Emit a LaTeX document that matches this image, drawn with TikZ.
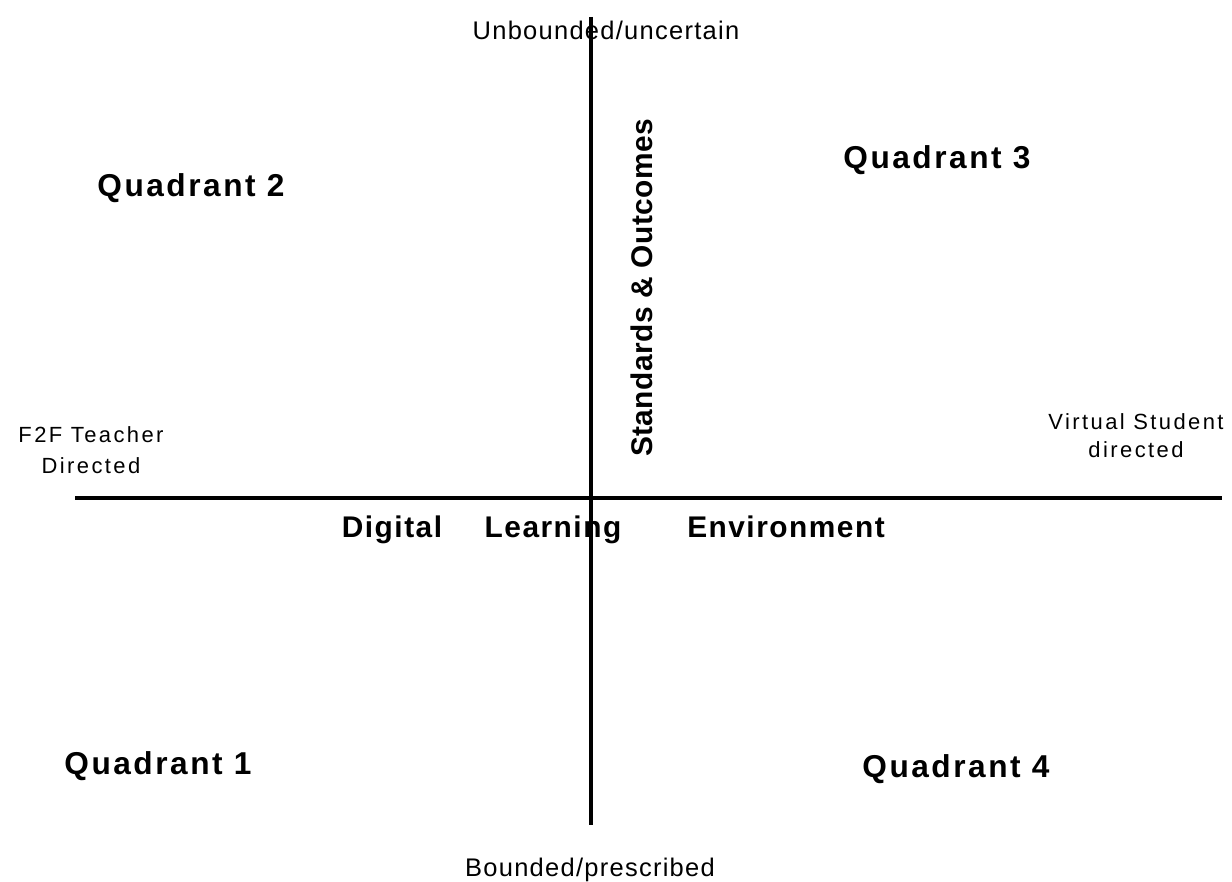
\documentclass[tikz,border=0pt]{standalone}
\usepackage{fontspec}
\setmainfont{Liberation Sans}
\newfontfamily\quadfont[LetterSpace=8]{Liberation Sans}
\newfontfamily\dlefont[LetterSpace=5]{Liberation Sans}
\newfontfamily\stdfont[LetterSpace=1.5]{Liberation Sans}
\newfontfamily\poleFont[LetterSpace=5]{Liberation Sans}
\newfontfamily\sideFont[LetterSpace=11]{Liberation Sans}
\tikzstyle{axis} = [line width=1.9pt, black]
\tikzstyle{quad} = [font=\quadfont\bfseries\fontsize{18}{20}\selectfont, anchor=base, inner sep=0pt]
\tikzstyle{dle} = [font=\dlefont\bfseries\fontsize{17}{20}\selectfont, anchor=base, inner sep=0pt]
\tikzstyle{pole} = [font=\poleFont\fontsize{14.5}{16}\selectfont, anchor=base, inner sep=0pt]
\tikzstyle{side} = [font=\sideFont\fontsize{12.5}{16}\selectfont, anchor=base, inner sep=0pt, align=center]

\begin{document}
\begin{tikzpicture}[x=0.02cm, y=-0.02cm]
\useasboundingbox (0,0) rectangle (1232,882);
 \coordinate (T) at (591,17);
 \coordinate (B) at (591,825);
 \coordinate (L) at (75,498);
 \coordinate (R) at (1222,498);

\draw[axis] (T) -- (B);
\draw[axis] (L) -- (R);

\node[pole, name=top] at (606,40) {Unbounded/uncertain};
\node[pole, name=bottom] at (590,876) {Bounded/prescribed};

\node[quad, name=q2] at (191,196) {Quadrant 2};
\node[quad, name=q3] at (937,169) {Quadrant 3};
\node[quad, name=q1] at (158,774) {Quadrant 1};
\node[quad, name=q4] at (956,777) {Quadrant 4};

\node[dle, name=std, rotate=90, font=\stdfont\bfseries\fontsize{17}{20}\selectfont] at (652,288) {Standards \& Outcomes};

\node[dle, name=dig] at (392,537) {Digital};
\node[dle, name=lrn] at (553,537) {Learning};
\node[dle, name=env] at (786,537) {Environment};

\node[side, name=f2f] at (91,473) {F2F Teacher\\[1.1pt]Directed};
\node[side, name=virt] at (1136,457) {Virtual Student\\[-0.6pt]directed};

\end{tikzpicture}
\end{document}
